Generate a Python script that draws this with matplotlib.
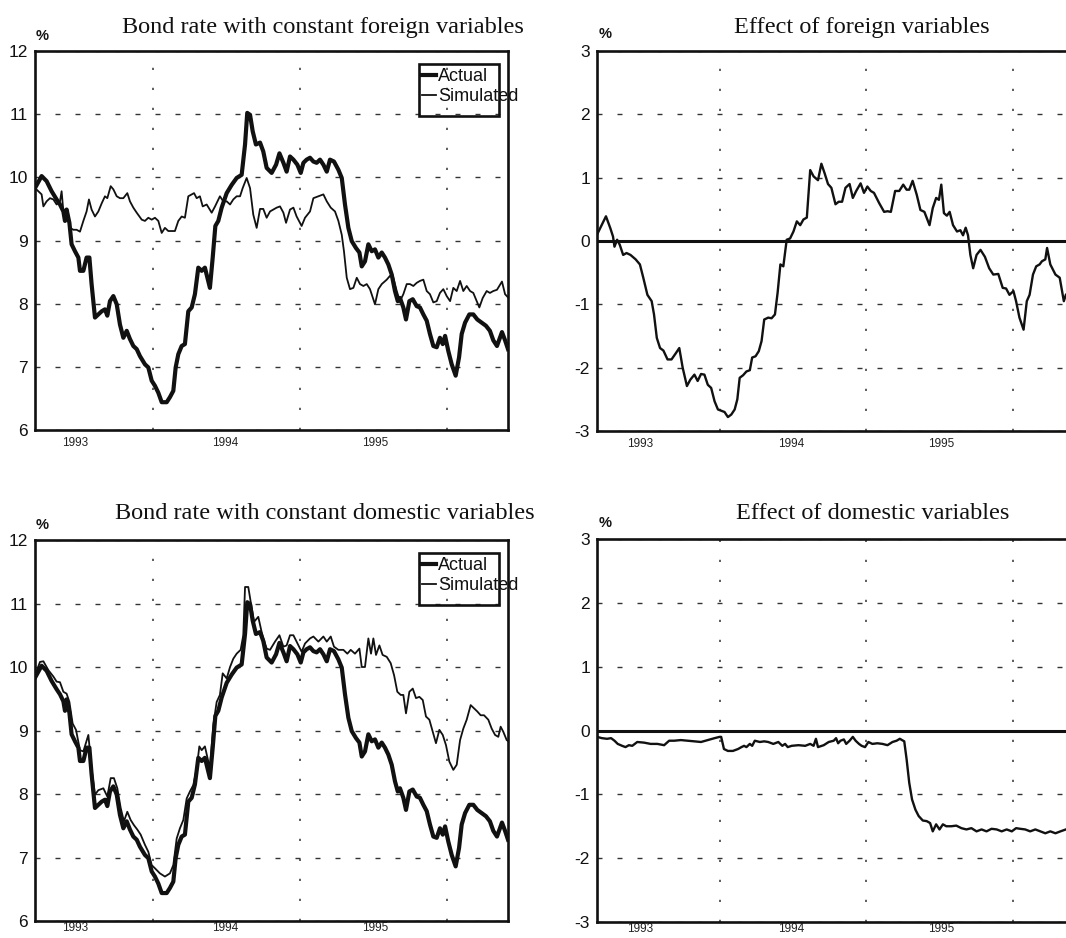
import matplotlib
matplotlib.use("Agg")
import matplotlib.pyplot as plt
from matplotlib.patches import Rectangle

plt.rcParams['lines.scale_dashes'] = False
plt.rcParams['font.family'] = ['Liberation Sans', 'DejaVu Sans']

# ---------------- data (decimal years, per cent) ----------------
ACT_T = [1993.199, 1993.244, 1993.278, 1993.312, 1993.346, 1993.369, 1993.392, 1993.403, 1993.414, 1993.433,
         1993.448, 1993.471, 1993.494, 1993.505, 1993.528, 1993.550, 1993.569, 1993.584, 1993.607, 1993.630,
         1993.653, 1993.675, 1993.691, 1993.709, 1993.732, 1993.755, 1993.777, 1993.800, 1993.823, 1993.845,
         1993.868, 1993.891, 1993.913, 1993.947, 1993.970, 1993.993, 1994.015, 1994.038, 1994.061, 1994.095,
         1994.117, 1994.140, 1994.156, 1994.174, 1994.197, 1994.219, 1994.242, 1994.265, 1994.287, 1994.310,
         1994.333, 1994.355, 1994.389, 1994.408, 1994.426, 1994.446, 1994.469, 1994.503, 1994.537, 1994.571,
         1994.605, 1994.628, 1994.643, 1994.662, 1994.680, 1994.702, 1994.730, 1994.752, 1994.775, 1994.809,
         1994.839, 1994.862, 1994.889, 1994.911, 1994.934, 1994.957, 1994.984, 1995.007, 1995.025, 1995.047,
         1995.070, 1995.093, 1995.115, 1995.138, 1995.161, 1995.184, 1995.206, 1995.233, 1995.263, 1995.286,
         1995.308, 1995.331, 1995.354, 1995.383, 1995.406, 1995.422, 1995.444, 1995.467, 1995.490, 1995.512,
         1995.535, 1995.558, 1995.580, 1995.603, 1995.626, 1995.648, 1995.667, 1995.682, 1995.705, 1995.723,
         1995.746, 1995.769, 1995.796, 1995.818, 1995.841, 1995.864, 1995.886, 1995.909, 1995.932, 1995.954,
         1995.973, 1995.989, 1996.011, 1996.034, 1996.061, 1996.084, 1996.102, 1996.125, 1996.154, 1996.181,
         1996.208, 1996.238, 1996.267, 1996.294, 1996.317, 1996.342, 1996.376, 1996.397, 1996.417]
ACT_V = [9.83, 10.02, 9.94, 9.78, 9.65, 9.57, 9.46, 9.31, 9.49, 9.28,
         8.94, 8.83, 8.73, 8.52, 8.52, 8.73, 8.73, 8.31, 7.78, 7.83,
         7.88, 7.91, 7.81, 8.04, 8.12, 7.99, 7.67, 7.46, 7.57, 7.44,
         7.33, 7.28, 7.17, 7.04, 6.99, 6.78, 6.70, 6.59, 6.44, 6.44,
         6.52, 6.62, 6.99, 7.20, 7.33, 7.36, 7.88, 7.94, 8.15, 8.57,
         8.52, 8.57, 8.25, 8.73, 9.23, 9.31, 9.52, 9.75, 9.88, 9.99,
         10.04, 10.52, 11.02, 10.99, 10.73, 10.52, 10.55, 10.41, 10.15, 10.07,
         10.20, 10.38, 10.23, 10.09, 10.33, 10.28, 10.20, 10.07, 10.23, 10.28,
         10.31, 10.25, 10.23, 10.28, 10.20, 10.09, 10.28, 10.25, 10.12, 9.99,
         9.57, 9.20, 8.99, 8.88, 8.81, 8.59, 8.67, 8.94, 8.83, 8.86,
         8.73, 8.81, 8.73, 8.62, 8.46, 8.20, 8.04, 8.09, 7.94, 7.75,
         8.04, 8.07, 7.96, 7.94, 7.83, 7.73, 7.52, 7.33, 7.31, 7.46,
         7.36, 7.49, 7.25, 7.04, 6.86, 7.15, 7.52, 7.70, 7.83, 7.83,
         7.75, 7.70, 7.65, 7.57, 7.42, 7.33, 7.55, 7.42, 7.28]

SIMF_T = [1993.199, 1993.222, 1993.244, 1993.256, 1993.278, 1993.301, 1993.324, 1993.346, 1993.369, 1993.380,
          1993.392, 1993.414, 1993.437, 1993.460, 1993.482, 1993.505, 1993.528, 1993.550, 1993.566, 1993.584,
          1993.607, 1993.630, 1993.653, 1993.675, 1993.691, 1993.714, 1993.732, 1993.755, 1993.777, 1993.800,
          1993.827, 1993.845, 1993.868, 1993.891, 1993.925, 1993.947, 1993.970, 1993.993, 1994.015, 1994.038,
          1994.061, 1994.083, 1994.106, 1994.129, 1994.151, 1994.174, 1994.197, 1994.219, 1994.242, 1994.265,
          1994.281, 1994.299, 1994.321, 1994.340, 1994.367, 1994.401, 1994.424, 1994.457, 1994.480, 1994.503,
          1994.526, 1994.548, 1994.571, 1994.594, 1994.612, 1994.639, 1994.662, 1994.684, 1994.707, 1994.730,
          1994.752, 1994.775, 1994.798, 1994.821, 1994.843, 1994.866, 1994.889, 1994.907, 1994.934, 1994.957,
          1994.979, 1995.013, 1995.036, 1995.070, 1995.093, 1995.127, 1995.161, 1995.184, 1995.211, 1995.240,
          1995.263, 1995.286, 1995.301, 1995.320, 1995.342, 1995.365, 1995.388, 1995.410, 1995.433, 1995.456,
          1995.478, 1995.512, 1995.535, 1995.558, 1995.592, 1995.614, 1995.637, 1995.660, 1995.682, 1995.705,
          1995.728, 1995.750, 1995.773, 1995.796, 1995.818, 1995.841, 1995.864, 1995.886, 1995.909, 1995.932,
          1995.954, 1995.977, 1996.000, 1996.023, 1996.045, 1996.068, 1996.091, 1996.113, 1996.136, 1996.159,
          1996.181, 1996.204, 1996.222, 1996.245, 1996.272, 1996.294, 1996.317, 1996.342, 1996.376, 1996.397,
          1996.417]
SIMF_V = [9.83, 9.78, 9.73, 9.54, 9.62, 9.67, 9.65, 9.57, 9.62, 9.78,
          9.46, 9.46, 9.20, 9.17, 9.17, 9.14, 9.31, 9.46, 9.65, 9.49,
          9.38, 9.46, 9.59, 9.70, 9.67, 9.86, 9.81, 9.70, 9.67, 9.67,
          9.75, 9.62, 9.52, 9.44, 9.33, 9.31, 9.36, 9.33, 9.36, 9.31,
          9.12, 9.20, 9.15, 9.15, 9.15, 9.31, 9.38, 9.36, 9.70, 9.73,
          9.75, 9.67, 9.70, 9.54, 9.57, 9.44, 9.54, 9.70, 9.62, 9.62,
          9.57, 9.65, 9.70, 9.70, 9.83, 9.99, 9.83, 9.41, 9.20, 9.50,
          9.50, 9.36, 9.46, 9.49, 9.52, 9.54, 9.44, 9.28, 9.49, 9.52,
          9.38, 9.23, 9.36, 9.46, 9.67, 9.70, 9.73, 9.62, 9.52, 9.46,
          9.31, 9.09, 8.83, 8.41, 8.23, 8.25, 8.41, 8.31, 8.28, 8.31,
          8.23, 7.99, 8.23, 8.31, 8.38, 8.44, 8.41, 8.20, 8.04, 8.15,
          8.31, 8.31, 8.28, 8.33, 8.36, 8.38, 8.20, 8.15, 8.02, 8.04,
          8.17, 8.23, 8.12, 8.04, 8.25, 8.20, 8.36, 8.20, 8.28, 8.20,
          8.17, 8.04, 7.94, 8.09, 8.20, 8.17, 8.20, 8.22, 8.35, 8.15,
          8.10]

SIMD_T = [1993.199, 1993.233, 1993.256, 1993.290, 1993.324, 1993.346, 1993.369, 1993.392, 1993.414, 1993.433,
          1993.455, 1993.478, 1993.505, 1993.528, 1993.562, 1993.584, 1993.607, 1993.630, 1993.664, 1993.691,
          1993.714, 1993.736, 1993.759, 1993.782, 1993.804, 1993.827, 1993.850, 1993.872, 1993.895, 1993.918,
          1993.947, 1993.970, 1993.993, 1994.015, 1994.049, 1994.083, 1994.117, 1994.140, 1994.163, 1994.185,
          1994.208, 1994.231, 1994.253, 1994.276, 1994.299, 1994.317, 1994.333, 1994.355, 1994.389, 1994.412,
          1994.435, 1994.457, 1994.476, 1994.503, 1994.526, 1994.548, 1994.571, 1994.598, 1994.616, 1994.628,
          1994.650, 1994.666, 1994.689, 1994.718, 1994.741, 1994.753, 1994.775, 1994.798, 1994.832, 1994.862,
          1994.889, 1994.911, 1994.934, 1994.957, 1994.991, 1995.013, 1995.036, 1995.070, 1995.093, 1995.127,
          1995.161, 1995.184, 1995.211, 1995.233, 1995.263, 1995.297, 1995.324, 1995.347, 1995.376, 1995.406,
          1995.422, 1995.444, 1995.467, 1995.485, 1995.501, 1995.519, 1995.542, 1995.564, 1995.592, 1995.619,
          1995.642, 1995.664, 1995.687, 1995.705, 1995.723, 1995.746, 1995.769, 1995.791, 1995.814, 1995.837,
          1995.859, 1995.882, 1995.905, 1995.927, 1995.950, 1995.973, 1995.995, 1996.018, 1996.045, 1996.068,
          1996.091, 1996.113, 1996.136, 1996.163, 1996.186, 1996.208, 1996.231, 1996.254, 1996.283, 1996.306,
          1996.329, 1996.351, 1996.367, 1996.385, 1996.408, 1996.419]
SIMD_V = [9.87, 10.08, 10.09, 9.95, 9.85, 9.77, 9.76, 9.61, 9.58, 9.45,
          9.11, 9.01, 8.69, 8.67, 8.93, 8.40, 7.99, 8.06, 8.09, 7.96,
          8.25, 8.25, 8.09, 7.78, 7.57, 7.72, 7.59, 7.51, 7.44, 7.36,
          7.20, 7.09, 6.88, 6.83, 6.75, 6.70, 6.75, 6.88, 7.30, 7.46,
          7.59, 7.93, 8.04, 8.14, 8.40, 8.75, 8.69, 8.75, 8.40, 9.09,
          9.45, 9.56, 9.90, 9.82, 10.00, 10.13, 10.21, 10.27, 10.50, 11.26,
          11.26, 11.03, 10.71, 10.79, 10.55, 10.45, 10.29, 10.27, 10.40, 10.50,
          10.32, 10.34, 10.50, 10.50, 10.34, 10.24, 10.37, 10.45, 10.48, 10.40,
          10.48, 10.40, 10.48, 10.32, 10.27, 10.27, 10.21, 10.27, 10.21, 10.29,
          10.00, 10.00, 10.45, 10.21, 10.45, 10.19, 10.34, 10.19, 10.16, 10.06,
          9.87, 9.61, 9.56, 9.56, 9.27, 9.61, 9.66, 9.51, 9.53, 9.48,
          9.22, 9.17, 8.98, 8.80, 9.01, 8.93, 8.77, 8.51, 8.38, 8.46,
          8.85, 9.03, 9.17, 9.40, 9.35, 9.30, 9.24, 9.24, 9.17, 9.03,
          8.93, 8.90, 9.06, 8.98, 8.85, 8.83]

EFFF_T = [1993.166, 1993.200, 1993.227, 1993.257, 1993.275, 1993.285, 1993.303, 1993.321, 1993.344, 1993.367,
          1993.394, 1993.429, 1993.458, 1993.481, 1993.509, 1993.538, 1993.554, 1993.573, 1993.595, 1993.618,
          1993.646, 1993.673, 1993.703, 1993.726, 1993.749, 1993.778, 1993.801, 1993.829, 1993.851, 1993.874,
          1993.897, 1993.920, 1993.943, 1993.966, 1993.989, 1994.011, 1994.034, 1994.057, 1994.080, 1994.103,
          1994.121, 1994.137, 1994.160, 1994.183, 1994.206, 1994.222, 1994.245, 1994.267, 1994.286, 1994.304,
          1994.331, 1994.354, 1994.377, 1994.395, 1994.414, 1994.434, 1994.457, 1994.480, 1994.503, 1994.526,
          1994.549, 1994.571, 1994.594, 1994.617, 1994.640, 1994.670, 1994.693, 1994.715, 1994.738, 1994.761,
          1994.789, 1994.811, 1994.834, 1994.857, 1994.885, 1994.907, 1994.930, 1994.960, 1994.983, 1995.006,
          1995.029, 1995.051, 1995.086, 1995.120, 1995.143, 1995.166, 1995.195, 1995.223, 1995.250, 1995.273,
          1995.291, 1995.314, 1995.342, 1995.367, 1995.394, 1995.429, 1995.451, 1995.474, 1995.493, 1995.509,
          1995.527, 1995.547, 1995.566, 1995.589, 1995.616, 1995.639, 1995.657, 1995.675, 1995.691, 1995.707,
          1995.726, 1995.749, 1995.776, 1995.806, 1995.835, 1995.863, 1995.897, 1995.927, 1995.950, 1995.973,
          1996.000, 1996.018, 1996.041, 1996.069, 1996.091, 1996.110, 1996.133, 1996.155, 1996.178, 1996.194,
          1996.217, 1996.229, 1996.251, 1996.286, 1996.315, 1996.343, 1996.357]
EFFF_V = [0.10, 0.26, 0.39, 0.20, 0.07, -0.09, 0.02, -0.06, -0.22, -0.19,
          -0.22, -0.29, -0.37, -0.58, -0.85, -0.95, -1.16, -1.53, -1.69, -1.73,
          -1.87, -1.87, -1.77, -1.69, -2.00, -2.29, -2.19, -2.11, -2.21, -2.10,
          -2.11, -2.27, -2.32, -2.53, -2.66, -2.68, -2.70, -2.78, -2.74, -2.66,
          -2.50, -2.16, -2.12, -2.06, -2.04, -1.84, -1.82, -1.74, -1.58, -1.24,
          -1.21, -1.22, -1.16, -0.82, -0.37, -0.40, 0.02, 0.04, 0.15, 0.31,
          0.25, 0.34, 0.37, 1.12, 1.02, 0.96, 1.22, 1.07, 0.90, 0.84,
          0.58, 0.62, 0.62, 0.84, 0.90, 0.68, 0.79, 0.91, 0.76, 0.86,
          0.79, 0.76, 0.60, 0.46, 0.47, 0.46, 0.79, 0.79, 0.89, 0.81,
          0.81, 0.95, 0.73, 0.49, 0.46, 0.25, 0.52, 0.68, 0.65, 0.89,
          0.44, 0.40, 0.46, 0.25, 0.15, 0.17, 0.09, 0.21, 0.09, -0.22,
          -0.43, -0.22, -0.14, -0.25, -0.43, -0.53, -0.52, -0.74, -0.75, -0.85,
          -0.79, -0.95, -1.21, -1.40, -0.95, -0.85, -0.53, -0.40, -0.37, -0.32,
          -0.29, -0.11, -0.37, -0.53, -0.58, -0.95, -0.85]

EFFD_T = [1993.166, 1993.200, 1993.234, 1993.262, 1993.285, 1993.307, 1993.337, 1993.360, 1993.383, 1993.406,
          1993.440, 1993.486, 1993.531, 1993.577, 1993.623, 1993.657, 1993.691, 1993.737, 1993.783, 1993.829,
          1993.874, 1993.920, 1993.966, 1994.000, 1994.011, 1994.030, 1994.057, 1994.091, 1994.126, 1994.149,
          1994.167, 1994.183, 1994.206, 1994.222, 1994.240, 1994.274, 1994.304, 1994.331, 1994.366, 1994.400,
          1994.427, 1994.446, 1994.464, 1994.491, 1994.537, 1994.583, 1994.617, 1994.640, 1994.656, 1994.670,
          1994.709, 1994.743, 1994.777, 1994.793, 1994.807, 1994.823, 1994.846, 1994.862, 1994.885, 1994.907,
          1994.926, 1994.949, 1994.967, 1994.990, 1995.013, 1995.040, 1995.074, 1995.109, 1995.143, 1995.177,
          1995.205, 1995.227, 1995.257, 1995.273, 1995.291, 1995.310, 1995.333, 1995.355, 1995.383, 1995.410,
          1995.433, 1995.451, 1995.474, 1995.497, 1995.520, 1995.543, 1995.577, 1995.611, 1995.646, 1995.680,
          1995.714, 1995.749, 1995.783, 1995.817, 1995.851, 1995.886, 1995.920, 1995.954, 1995.989, 1996.018,
          1996.046, 1996.080, 1996.114, 1996.149, 1996.183, 1996.217, 1996.251, 1996.286, 1996.320, 1996.357]
EFFD_V = [-0.10, -0.12, -0.13, -0.12, -0.16, -0.21, -0.24, -0.26, -0.23, -0.24,
          -0.18, -0.19, -0.21, -0.21, -0.23, -0.16, -0.16, -0.15, -0.16, -0.17,
          -0.18, -0.15, -0.12, -0.10, -0.10, -0.29, -0.32, -0.32, -0.29, -0.26,
          -0.24, -0.26, -0.21, -0.24, -0.16, -0.18, -0.17, -0.18, -0.21, -0.18,
          -0.24, -0.21, -0.26, -0.24, -0.23, -0.24, -0.21, -0.24, -0.13, -0.26,
          -0.23, -0.18, -0.16, -0.12, -0.20, -0.16, -0.14, -0.21, -0.16, -0.10,
          -0.16, -0.21, -0.24, -0.26, -0.18, -0.21, -0.20, -0.21, -0.23, -0.18,
          -0.16, -0.13, -0.17, -0.45, -0.82, -1.08, -1.24, -1.34, -1.41, -1.42,
          -1.45, -1.58, -1.47, -1.55, -1.47, -1.50, -1.50, -1.49, -1.53, -1.55,
          -1.53, -1.58, -1.55, -1.58, -1.54, -1.55, -1.58, -1.55, -1.58, -1.53,
          -1.54, -1.55, -1.58, -1.55, -1.58, -1.61, -1.58, -1.61, -1.58, -1.55]

TITLES = ["Bond rate with constant foreign variables", "Effect of foreign variables",
          "Bond rate with constant domestic variables", "Effect of domestic variables"]
LEVEL_TICKS = [6, 7, 8, 9, 10, 11, 12]
EFFECT_TICKS = [-3, -2, -1, 0, 1, 2, 3]
GRID_YEARS = [1994, 1995, 1996]
YEAR_LABELS = ["1993", "1994", "1995"]
SERIES_LABELS = ["Actual", "Simulated"]

# ---------------- layout ----------------
W, H = 1066, 938
fig = plt.figure(figsize=(W / 100, H / 100), dpi=100)
fig.patch.set_facecolor("white")


def px_axes(l, t, r, b):
    return fig.add_axes([l / W, 1 - b / H, (r - l) / W, (b - t) / H])


ax_tl = px_axes(35, 51, 508, 430)
ax_tr = px_axes(597, 51, 1070, 431)
ax_bl = px_axes(35, 540, 508, 921)
ax_br = px_axes(597, 539, 1070, 922)

INK = "#111111"


def style(ax, xlim, ylim, yticks, label_pos, xpad):
    ax.set_xlim(xlim)
    ax.set_ylim(ylim)
    ax.set_axisbelow(True)
    ax.set_xticks(GRID_YEARS)
    ax.set_xticklabels([])
    ax.set_xticks(label_pos, minor=True)
    ax.set_xticklabels(YEAR_LABELS, minor=True, fontsize=8.5, color="#222222")
    ax.tick_params(axis="x", which="both", length=0, pad=xpad)
    ax.set_yticks(yticks)
    ax.set_yticklabels([str(v) for v in yticks])
    ax.tick_params(axis="y", length=0, pad=5, labelsize=12.5, labelcolor=INK)
    ax.grid(axis="x", which="major", color="#333333", lw=1.1, linestyle=(0, (1.6, 12.8)))
    ax.grid(axis="y", which="major", color="#333333", lw=1.0, linestyle=(0, (3.6, 10.8)))
    for s in ax.spines.values():
        s.set_linewidth(1.9)
        s.set_color(INK)


LEFT_XLIM = (1993.199, 1996.417)
RIGHT_XLIM = (1993.166, 1996.385)
LEFT_LAB = [1993.47, 1994.49, 1995.51]
RIGHT_LAB = [1993.46, 1994.49, 1995.51]

style(ax_tl, LEFT_XLIM, (6, 12), LEVEL_TICKS, LEFT_LAB, 5)
style(ax_bl, LEFT_XLIM, (6, 12), LEVEL_TICKS, LEFT_LAB, 1)
style(ax_tr, RIGHT_XLIM, (-3, 3), EFFECT_TICKS, RIGHT_LAB, 5)
style(ax_br, RIGHT_XLIM, (-3, 3), EFFECT_TICKS, RIGHT_LAB, 1)

# ---------------- lines ----------------
for ax, sim_t, sim_v in [(ax_tl, SIMF_T, SIMF_V), (ax_bl, SIMD_T, SIMD_V)]:
    l_sim, = ax.plot(sim_t, sim_v, color=INK, lw=1.3, solid_joinstyle="round", zorder=3)
    l_act, = ax.plot(ACT_T, ACT_V, color=INK, lw=3.0, solid_joinstyle="round", zorder=4)
    leg = ax.legend([l_act, l_sim], SERIES_LABELS, loc="upper left",
                    bbox_to_anchor=(0.8175, 0.955), frameon=False, borderpad=0,
                    borderaxespad=0, handlelength=0.8, handletextpad=0.1,
                    labelspacing=0.18, fontsize=13)
    leg.set_zorder(6)
    for t in leg.get_texts():
        t.set_color(INK)
    ax.add_patch(Rectangle((0.812, 0.8285), 0.169, 0.1375, transform=ax.transAxes,
                           fill=False, lw=1.9, edgecolor=INK, zorder=5, clip_on=False))

for ax, t, v in [(ax_tr, EFFF_T, EFFF_V), (ax_br, EFFD_T, EFFD_V)]:
    ax.axhline(0, color=INK, lw=2.2, zorder=3)
    ax.plot(t, v, color=INK, lw=1.7, solid_joinstyle="round", zorder=4)

# ---------------- titles and unit labels ----------------
title_pos = [(323, 33), (862, 33), (325, 519), (873, 519)]
for txt, (x, y) in zip(TITLES, title_pos):
    fig.text(x / W, 1 - y / H, txt, ha="center", va="baseline",
             family="Liberation Serif", fontsize=17.5, color=INK)

for x, y in [(42, 36), (605, 34), (42, 525), (605, 523)]:
    fig.text(x / W, 1 - y / H, "%", ha="center", va="center",
             fontsize=10.5, fontweight="bold", color=INK)

fig.savefig("out.png", dpi=100, facecolor="white")
